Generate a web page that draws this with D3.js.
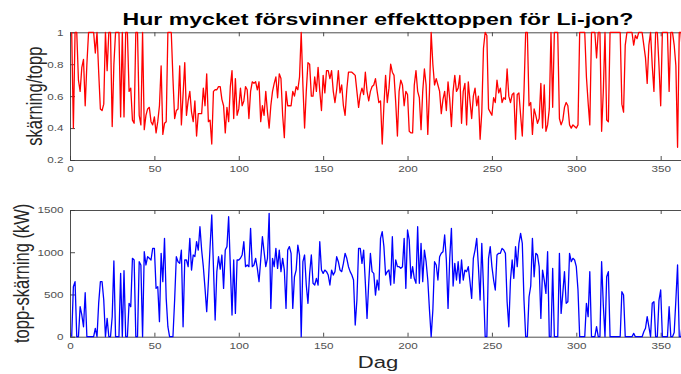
<!DOCTYPE html>
<html>
<head>
<meta charset="utf-8">
<script src="https://cdn.jsdelivr.net/npm/d3@7/dist/d3.min.js"></script>
<style>
  html, body { margin: 0; padding: 0; background: #fff; }
  svg { display: block; }
</style>
</head>
<body>
<svg id="chart" width="681" height="374"></svg>
<script>
// Day of year, 1..365
const days = d3.range(1, 366);

// Remaining peak share after shaving (skärning/topp), one value per day
const ratio = [
  1.0,0.40,1.0,1.0,0.70,0.63,0.78,0.83,0.54,0.80,
  1.0,1.0,1.0,1.0,0.87,1.0,0.75,0.52,0.51,0.55,
  1.0,0.76,1.0,1.0,0.41,0.80,1.0,1.0,1.0,0.47,
  1.0,0.47,1.0,1.0,0.63,0.65,0.45,0.43,1.0,1.0,
  0.48,0.42,1.0,0.39,0.48,0.52,0.53,0.44,0.42,0.47,
  0.37,0.44,0.54,0.79,0.36,0.43,0.44,1.0,1.0,1.0,
  0.71,0.46,0.51,0.52,0.79,0.42,0.61,0.81,0.48,0.57,
  0.63,0.50,0.44,0.57,0.35,0.49,0.49,0.49,0.65,0.54,
  0.74,0.44,0.45,0.30,0.63,0.64,0.64,0.66,0.66,0.58,
  0.54,0.37,0.53,0.44,0.66,0.76,0.46,0.71,0.48,0.52,
  0.65,0.54,0.57,0.66,0.64,0.46,0.63,0.69,0.68,0.69,
  0.64,0.69,0.44,0.54,0.48,0.63,0.50,0.40,0.54,0.63,
  0.68,0.72,0.59,0.74,0.71,0.48,0.34,0.63,0.54,0.54,
  0.54,0.63,0.60,0.66,0.64,0.72,1.0,0.67,0.40,0.63,
  0.81,0.80,0.60,0.60,0.72,0.63,0.78,0.63,0.51,0.73,
  0.62,0.76,0.76,0.71,0.76,0.63,0.56,0.64,0.76,0.62,
  0.67,0.54,0.48,0.64,0.75,0.75,0.75,0.74,0.73,0.63,
  0.53,0.61,0.65,0.61,0.75,0.63,0.57,0.63,0.66,0.67,
  0.71,0.63,0.56,0.57,0.30,0.54,0.73,0.56,0.65,0.80,
  0.75,0.73,0.56,0.35,0.63,0.70,0.67,0.54,0.63,0.61,
  0.38,0.37,0.37,0.67,0.76,0.63,0.59,0.39,0.63,0.77,
  0.67,0.36,0.63,1.0,0.80,0.67,0.71,0.67,0.63,0.49,
  0.58,0.63,0.51,0.69,0.58,0.41,0.63,0.73,0.63,0.65,
  0.73,0.43,0.63,0.68,0.42,0.69,0.57,0.46,0.60,0.65,
  0.54,0.60,0.33,0.50,0.90,1.0,0.98,0.52,0.50,0.48,
  0.59,0.56,0.70,0.62,0.65,0.56,0.59,0.58,0.77,0.60,
  0.56,0.61,0.62,0.33,0.61,0.62,0.48,0.35,0.63,1.0,
  1.0,0.54,0.56,0.36,0.52,0.48,0.43,0.46,0.68,0.40,
  0.67,0.38,0.42,0.52,1.0,0.53,1.0,1.0,1.0,0.46,
  0.42,0.45,0.53,0.56,0.54,0.42,0.40,0.42,0.41,0.40,
  0.42,1.0,1.0,1.0,1.0,0.72,0.56,0.42,1.0,1.0,
  1.0,0.84,1.0,1.0,0.38,0.63,1.0,0.45,0.44,1.0,
  1.0,1.0,1.0,1.0,1.0,1.0,0.55,0.50,0.92,1.0,
  1.0,1.0,1.0,0.92,0.98,0.96,1.0,1.0,1.0,0.92,
  0.84,0.68,0.92,1.0,0.79,0.63,1.0,1.0,0.79,0.54,
  1.0,1.0,1.0,1.0,0.63,1.0,1.0,0.92,0.79,0.28,
  1.0,1.0,0.85,0.73,0.75
];

// Peak reduction in kW (topp-skärning), one value per day
const shaved = [
  0,592,651,0,0,355,257,118,521,0,
  0,0,0,0,99,0,400,651,651,434,
  0,217,0,0,237,896,0,0,0,750,
  0,781,0,0,395,355,928,908,0,0,
  888,849,0,1006,849,947,928,908,1046,1046,
  572,592,178,987,651,1164,454,118,0,0,
  0,434,947,888,868,1026,118,908,908,829,
  1164,789,967,950,1125,1026,1302,1026,829,572,
  296,650,1066,1441,829,197,770,947,800,967,
  572,1026,1066,1421,829,257,908,276,908,908,
  928,967,1125,829,849,829,1283,829,849,928,
  809,651,908,1184,1006,829,928,1460,335,928,
  829,1046,809,1026,770,928,789,335,1026,1066,
  987,335,710,789,1085,967,0,888,967,612,
  395,750,967,632,612,691,612,1125,789,750,
  789,770,730,612,789,730,770,947,888,789,
  770,868,987,928,829,770,730,671,138,434,
  1046,1046,868,1026,640,217,632,987,770,750,
  493,671,553,1164,1243,1066,730,770,789,612,
  1184,632,908,829,829,809,829,1164,572,1263,
  1145,691,829,691,632,1302,632,1105,651,1026,
  888,671,316,0,316,888,849,671,947,987,
  1006,1204,908,335,928,1283,600,868,671,888,
  632,908,671,789,770,829,651,454,928,1026,
  1164,829,434,1105,592,0,0,928,1066,829,
  671,553,967,987,987,1046,1026,987,414,118,
  671,908,691,1066,829,1105,1224,1105,434,0,
  0,473,600,1164,710,987,967,829,217,789,
  671,513,1006,0,0,809,0,0,0,987,
  276,513,770,395,414,987,888,928,908,829,
  553,0,0,0,0,395,237,770,0,0,
  0,118,0,0,888,375,0,710,770,0,
  0,0,0,0,0,0,533,493,0,0,
  0,0,0,39,0,0,0,0,0,59,
  100,237,118,0,395,414,0,0,434,553,
  0,0,0,0,355,0,0,50,434,849,
  0,0,217,300,200
];

// Axis ticks
const dayTicks = [0, 50, 100, 150, 200, 250, 300, 350];
const ratioTicks = [0.2, 0.4, 0.6, 0.8, 1];
const shavedTicks = [0, 500, 1000, 1500];

const titleText = "Hur mycket försvinner effekttoppen för Li-jon?";
const xLabelText = "Dag";
const ratioLabel = "skärning/topp";
const shavedLabel = "topp-skärning (kW)";

const FONT = "'Liberation Sans', Arial, Helvetica, sans-serif";
const AXIS_COLOR = "#3a3a3a";
const STRETCH = 1.3;   // glyphs in this figure are drawn wider than tall

const svg = d3.select("#chart");

const x = d3.scaleLinear().domain([0, 365]).range([70, 686]);

// Widen text horizontally around its anchor point
function widen(sel, sx) {
  sel.each(function () {
    const t = d3.select(this);
    const tx = +t.attr("x") || 0;
    const ty = +t.attr("y") || 0;
    t.attr("x", 0).attr("y", 0)
     .attr("transform", `translate(${tx},${ty}) scale(${sx},1)`);
  });
}

function styleAxis(g) {
  g.attr("font-family", FONT).attr("font-size", 9);
  g.selectAll("path.domain").attr("stroke", AXIS_COLOR).attr("stroke-width", 0.9);
  g.selectAll(".tick line").attr("stroke", AXIS_COLOR).attr("stroke-width", 0.9);
  g.selectAll(".tick text").attr("fill", "#505050");
}

function panel({ top, bottom, domain, ticks, values, color, label, labelX }) {
  const y = d3.scaleLinear().domain(domain).range([bottom, top]);
  const g = svg.append("g");

  // Box with inward ticks on all four sides
  const axB = g.append("g").attr("transform", `translate(0,${bottom})`)
    .call(d3.axisBottom(x).tickValues(dayTicks).tickSizeInner(-4).tickSizeOuter(0).tickPadding(6));
  const axT = g.append("g").attr("transform", `translate(0,${top})`)
    .call(d3.axisTop(x).tickValues(dayTicks).tickSizeInner(-4).tickSizeOuter(0).tickFormat(""));
  const axL = g.append("g").attr("transform", `translate(${x(0)},0)`)
    .call(d3.axisLeft(y).tickValues(ticks).tickSizeInner(-5).tickSizeOuter(0).tickPadding(6.5)
      .tickFormat(d => String(d)));
  const axR = g.append("g").attr("transform", `translate(${x(365)},0)`)
    .call(d3.axisRight(y).tickValues(ticks).tickSizeInner(-5).tickSizeOuter(0).tickFormat(""));
  [axB, axT, axL, axR].forEach(styleAxis);
  widen(axB.selectAll(".tick text"), STRETCH);
  widen(axL.selectAll(".tick text"), STRETCH);

  // Daily series
  const line = d3.line()
    .x((d, i) => x(days[i]))
    .y(d => y(d));
  g.append("path")
    .datum(values)
    .attr("fill", "none")
    .attr("stroke", color)
    .attr("stroke-width", 1.3)
    .attr("stroke-linejoin", "round")
    .attr("d", line);

  // Vertical axis title
  g.append("text")
    .attr("transform", `translate(${labelX},${(top + bottom) / 2}) scale(${STRETCH},1) rotate(-90)`)
    .attr("text-anchor", "middle")
    .attr("font-family", FONT)
    .attr("font-size", 16.5)
    .attr("fill", "#262626")
    .text(label);
}

panel({ top: 32.3, bottom: 160, domain: [0.2, 1], ticks: ratioTicks,
        values: ratio, color: "#ff0000", label: ratioLabel, labelX: 41.5 });
panel({ top: 210, bottom: 336.7, domain: [0, 1500], ticks: shavedTicks,
        values: shaved, color: "#0000ff", label: shavedLabel, labelX: 28.5 });

// Figure title
svg.append("text")
  .attr("transform", `translate(378,25) scale(1.36,1)`)
  .attr("text-anchor", "middle")
  .attr("font-family", FONT)
  .attr("font-weight", "bold")
  .attr("font-size", 17)
  .attr("fill", "#000")
  .text(titleText);

// Shared x-axis title
svg.append("text")
  .attr("transform", `translate(378,368) scale(${STRETCH},1)`)
  .attr("text-anchor", "middle")
  .attr("font-family", FONT)
  .attr("font-size", 17)
  .attr("fill", "#262626")
  .text(xLabelText);
</script>
</body>
</html>
